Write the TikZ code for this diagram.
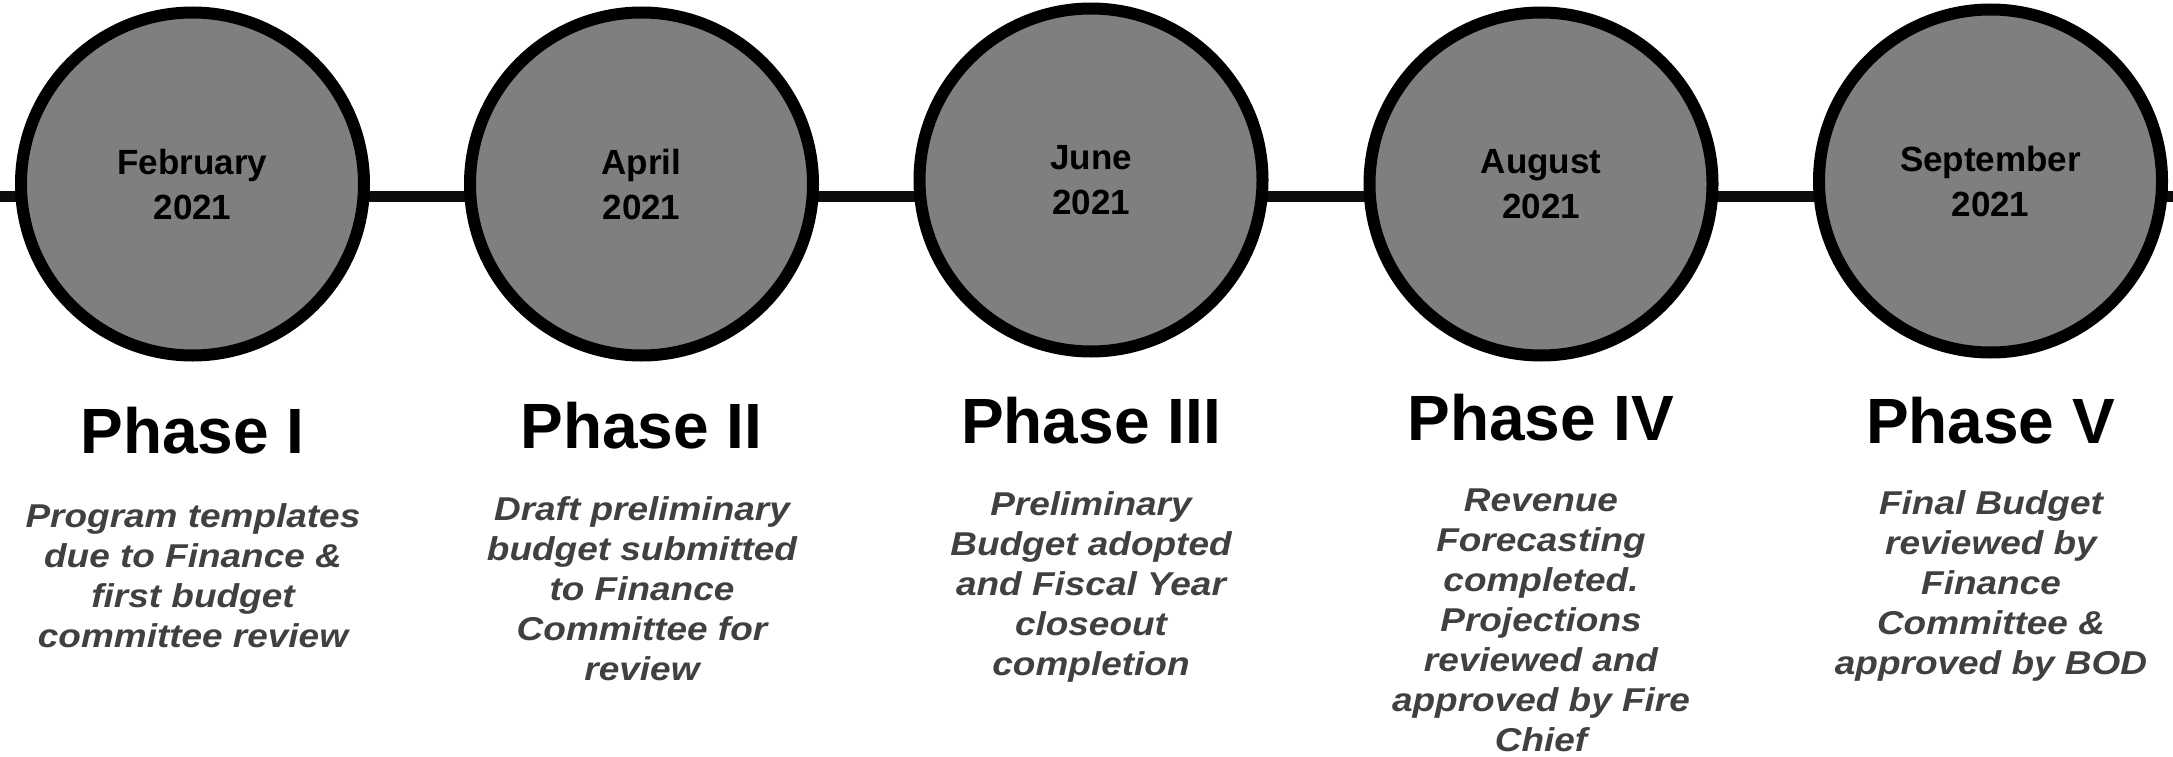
\documentclass[tikz,border=0pt]{standalone}
\usepackage{fontspec}
\setmainfont{Liberation Sans}
\newfontfamily\descfont[FakeStretch=1.12]{Liberation Sans}
\usetikzlibrary{backgrounds}
\definecolor{circfill}{RGB}{127,127,127}
\definecolor{desccol}{RGB}{64,64,64}
\definecolor{linecol}{RGB}{13,13,13}
\begin{document}
\begin{tikzpicture}[x=1pt,y=-1pt,
  month/.style={circle, draw=black, line width=12pt, fill=circfill, minimum size=343pt, inner sep=0pt, align=center, font=\fontsize{35}{45}\selectfont\bfseries},
  phase/.style={anchor=base, inner sep=0pt, font=\fontsize{64}{70}\selectfont\bfseries},
  desc/.style={anchor=base, inner sep=0pt, align=center, text=desccol, font=\descfont\fontsize{33}{40}\selectfont\bfseries\itshape},
  tl/.style={draw=linecol, line width=11pt}]
\useasboundingbox (0,0) rectangle (2173,757);
\node[month] (c1) at (192.5,184) {February\\2021};
\node[month] (c2) at (641.5,184) {April\\2021};
\node[month] (c3) at (1091,180) {June\\2021};
\node[month] (c4) at (1541,184) {August\\2021};
\node[month] (c5) at (1990.5,181) {September\\2021};
\coordinate (L) at (0,196);
\coordinate (R) at (2173,196);
\begin{pgfonlayer}{background}
\draw[tl] (L) -- (c1.center |- L);
\draw[tl] (c1.center |- L) -- (c2.center |- L);
\draw[tl] (c2.center |- L) -- (c3.center |- L);
\draw[tl] (c3.center |- L) -- (c4.center |- L);
\draw[tl] (c4.center |- L) -- (c5.center |- L);
\draw[tl] (c5.center |- L) -- (R);
\end{pgfonlayer}
\node[phase] (p1) at (192.5,453) {Phase I};
\node[phase] (p2) at (641.5,448) {Phase II};
\node[phase] (p3) at (1091,443) {Phase III};
\node[phase] (p4) at (1541,440) {Phase IV};
\node[phase] (p5) at (1990.5,443) {Phase V};
% anchor=base of a multi-line node is the baseline of its last line
\node[desc] (d1) at (193,647) {Program templates\\due to Finance \&\\first budget\\committee review};
\node[desc] (d2) at (642,680) {Draft preliminary\\budget submitted\\to Finance\\Committee for\\review};
\node[desc] (d3) at (1091,675) {Preliminary\\Budget adopted\\and Fiscal Year\\closeout\\completion};
\node[desc] (d4) at (1541,751) {Revenue\\Forecasting\\completed.\\Projections\\reviewed and\\approved by Fire\\Chief};
\node[desc] (d5) at (1991,674) {Final Budget\\reviewed by\\Finance\\Committee \&\\approved by BOD};
\end{tikzpicture}
\end{document}
